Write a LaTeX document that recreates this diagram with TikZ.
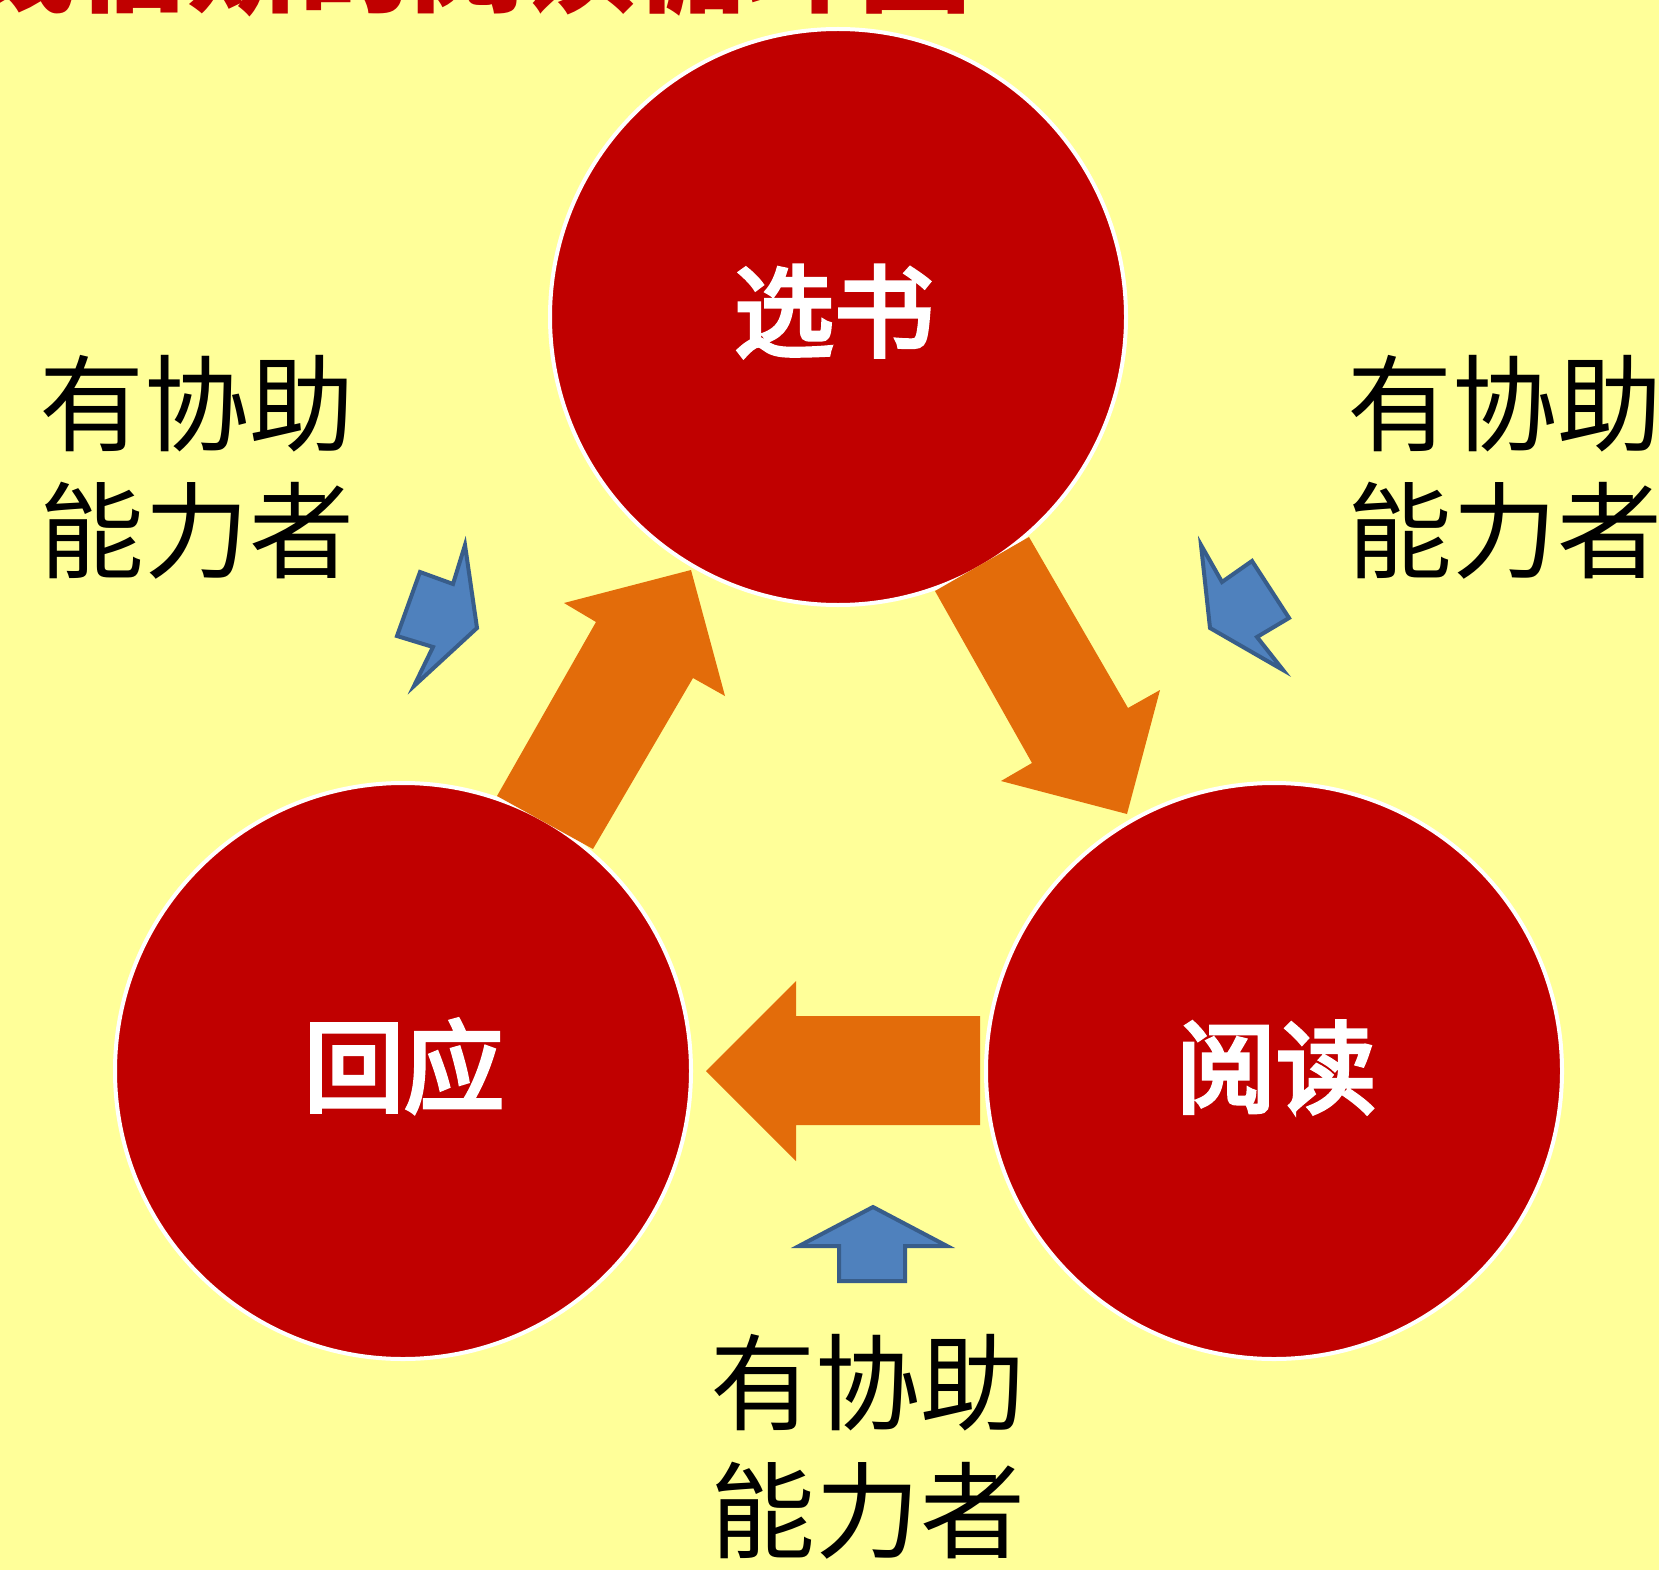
\documentclass[tikz,border=0pt]{standalone}
\usepackage{fontspec}
\newfontfamily\cjk{Noto Sans CJK SC}
\newfontfamily\cjkfb[FakeBold=4]{Noto Sans CJK SC}
\definecolor{bgyellow}{HTML}{FFFF99}
\definecolor{cred}{HTML}{C00000}
\definecolor{corange}{HTML}{E36C0A}
\definecolor{bfill}{HTML}{4F81BD}
\definecolor{bline}{HTML}{385D8A}
\tikzset{
  circ/.style={circle, fill=cred, draw=white, line width=4pt, minimum size=576pt, inner sep=0pt},
  clabel/.style={anchor=base, text=white, inner sep=0pt, font=\cjkfb\fontsize{100}{110}\selectfont},
  helper/.style={anchor=base, text=black, inner sep=0pt, font=\cjk\fontsize{105}{125}\selectfont},
  bigarrow/.style={fill=corange},
  bluearrow/.style={fill=bfill, draw=bline, line width=4pt, line join=miter},
}
\begin{document}
\begin{tikzpicture}[x=1pt,y=-1pt]
\useasboundingbox (0,0) rectangle (1659,1570);
\clip (0,0) rectangle (1659,1570);
\fill[bgyellow] (0,0) rectangle (1659,1570);
% title (cut off at the top)
\node[anchor=base east, inner sep=0pt, text=cred, font=\cjk\bfseries\fontsize{112}{120}\selectfont] (title) at (972,4) {钱伯斯的阅读循环图};
% circles
\node[circ] (xs) at (838,317) {};
\node[circ] (hy) at (403,1071) {};
\node[circ] (yd) at (1274,1071) {};
\node[clabel] (xsl) at (834,349) {选书};
\node[clabel] (hyl) at (404,1104) {回应};
\node[clabel] (ydl) at (1276,1105) {阅读};
% orange block arrows
\fill[bigarrow] (497,796) -- (596,622) -- (564,603) -- (691,570) -- (725,696) -- (693,678) -- (593,849) -- cycle;
\fill[bigarrow] (935,591) -- (1029,537) -- (1128,708) -- (1160,690) -- (1127,814) -- (1001,781) -- (1032,763) -- cycle;
\fill[bigarrow] (980,1016) -- (796,1016) -- (796,981) -- (706,1071) -- (796,1161) -- (796,1125) -- (980,1125) -- cycle;
% blue arrows
\draw[bluearrow] (465,545) -- (477,628) -- (414,686) -- (433,647) -- (397,636) -- (420,572) -- (453,584) -- cycle;
\draw[bluearrow] (1201,545) -- (1222,582) -- (1252,561) -- (1289,618) -- (1257,637) -- (1283,670) -- (1210,628) -- cycle;
\draw[bluearrow] (873,1207) -- (947,1246) -- (905,1246) -- (905,1281) -- (839,1281) -- (839,1246) -- (799,1246) -- cycle;
% helper labels
\node[helper] (l1) at (197,443) {有协助};
\node[helper] (l2) at (197,570) {能力者};
\node[helper] (r1) at (1505,443) {有协助};
\node[helper] (r2) at (1505,570) {能力者};
\node[helper] (b1) at (868,1422) {有协助};
\node[helper] (b2) at (868,1550) {能力者};
\end{tikzpicture}
\end{document}
